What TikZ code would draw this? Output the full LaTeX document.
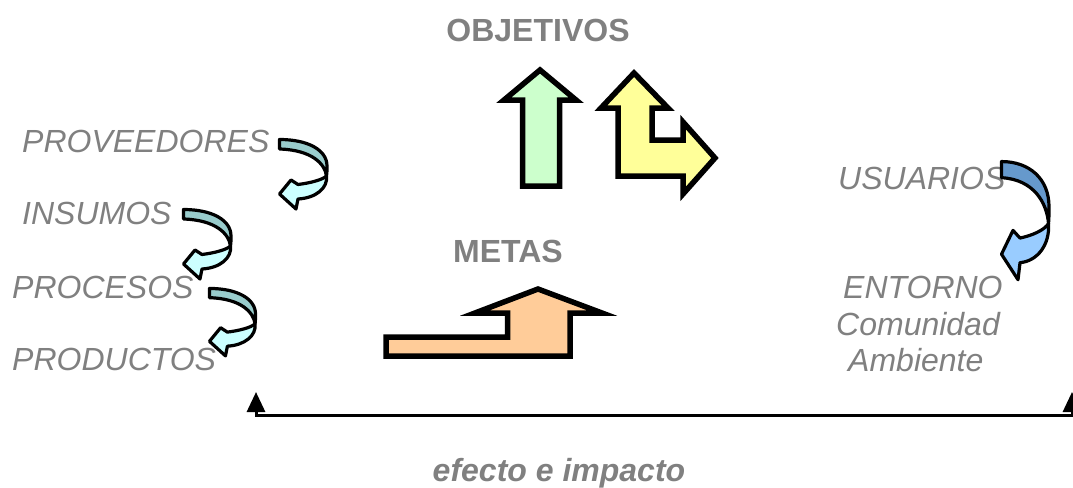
\documentclass[tikz,border=0pt]{standalone}
\usepackage{fontspec}
\setmainfont{Liberation Sans}
\usetikzlibrary{arrows.meta}
\definecolor{txtgray}{HTML}{808080}
\definecolor{tealdark}{HTML}{99CCCC}
\definecolor{teallight}{HTML}{CCFFFF}
\definecolor{bluedark}{HTML}{6699CC}
\definecolor{bluelight}{HTML}{99CCFF}
\definecolor{greenfill}{HTML}{CCFFCC}
\definecolor{yellowfill}{HTML}{FFFF99}
\definecolor{orangefill}{HTML}{FFCC99}
\tikzset{
  lbl/.style={inner sep=0pt, text=txtgray, font=\fontsize{32}{38}\selectfont\itshape},
  ttl/.style={inner sep=0pt, text=txtgray, font=\fontsize{32}{38}\selectfont\bfseries},
  bigarrow/.style={draw=black, line width=5.5pt, line join=miter},
  curvline/.style={draw=black, line width=3.2pt, line join=round},
  pics/curvarr/.style 2 args={code={
    \filldraw[fill=#2, curvline] (48.5,38) .. controls (50,50) and (38,60) .. (20,61)
      -- (18,71) -- (1.5,56) -- (13,42) -- (20,46.5)
      .. controls (32,45) and (44,42) .. (48.5,38) -- cycle;
    \filldraw[fill=#1, curvline] (1.5,1.5) .. controls (30,1.5) and (49,12) .. (49,28)
      .. controls (49,32) and (49,35) .. (48.5,38)
      .. controls (47,26) and (34,12) .. (1.5,11) -- cycle;
  }}
}
\begin{document}
\begin{tikzpicture}[x=1pt, y=-1pt]
\useasboundingbox (0,0) rectangle (1073,487);

% titles
\node[ttl, anchor=base] (obj) at (538,42) {OBJETIVOS};
\node[ttl, anchor=base] (metas) at (508,262) {METAS};
\node[ttl, anchor=base, font=\fontsize{32}{38}\selectfont\bfseries\itshape] (efecto) at (559,481) {efecto e impacto};

% left labels
\node[lbl, anchor=base west] (prov) at (22,152) {PROVEEDORES};
\node[lbl, anchor=base west] (ins) at (22,224) {INSUMOS};
\node[lbl, anchor=base west] (proc) at (12,298) {PROCESOS};
\node[lbl, anchor=base west] (prod) at (12,370) {PRODUCTOS};

% right labels
\node[lbl, anchor=base west] (usu) at (838,189) {USUARIOS};
\node[lbl, anchor=base west] (ent) at (843,298) {ENTORNO};
\node[lbl, anchor=base west] (com) at (836,335) {Comunidad};
\node[lbl, anchor=base west] (amb) at (848,371) {Ambiente};

% curved arrows
\pic at (278,138) {curvarr={tealdark}{teallight}};
\pic at (182,208) {curvarr={tealdark}{teallight}};
\pic[scale=0.97] at (208,287) {curvarr={tealdark}{teallight}};
\pic[yscale=1.7] at (1000,159) {curvarr={bluedark}{bluelight}};

% green up arrow
\filldraw[bigarrow, fill=greenfill] (540,70) -- (576,100) -- (559.5,100) -- (559.5,186)
  -- (522.5,186) -- (522.5,100) -- (504,100) -- cycle;

% yellow bent arrow
\filldraw[bigarrow, fill=yellowfill] (634,73) -- (668,108) -- (652,108) -- (652,140)
  -- (683,140) -- (683,122) -- (715,158) -- (683,194) -- (683,176) -- (618,176)
  -- (618,108) -- (601,108) -- cycle;

% orange arrow
\filldraw[bigarrow, fill=orangefill] (538,289) -- (602,313) -- (570,313) -- (570,356)
  -- (386,356) -- (386,337) -- (507.5,337) -- (507.5,313) -- (475,313) -- cycle;

% baseline with arrow heads
\coordinate (lt) at (256,392);
\coordinate (lc) at (256,415);
\coordinate (rc) at (1072,415);
\coordinate (rt) at (1072,392);
\draw[line width=3pt, {Triangle[width=18pt,length=20pt]}-{Triangle[width=18pt,length=20pt]}]
  (lt) -- (lc) -- (rc) -- (rt);
\end{tikzpicture}
\end{document}
